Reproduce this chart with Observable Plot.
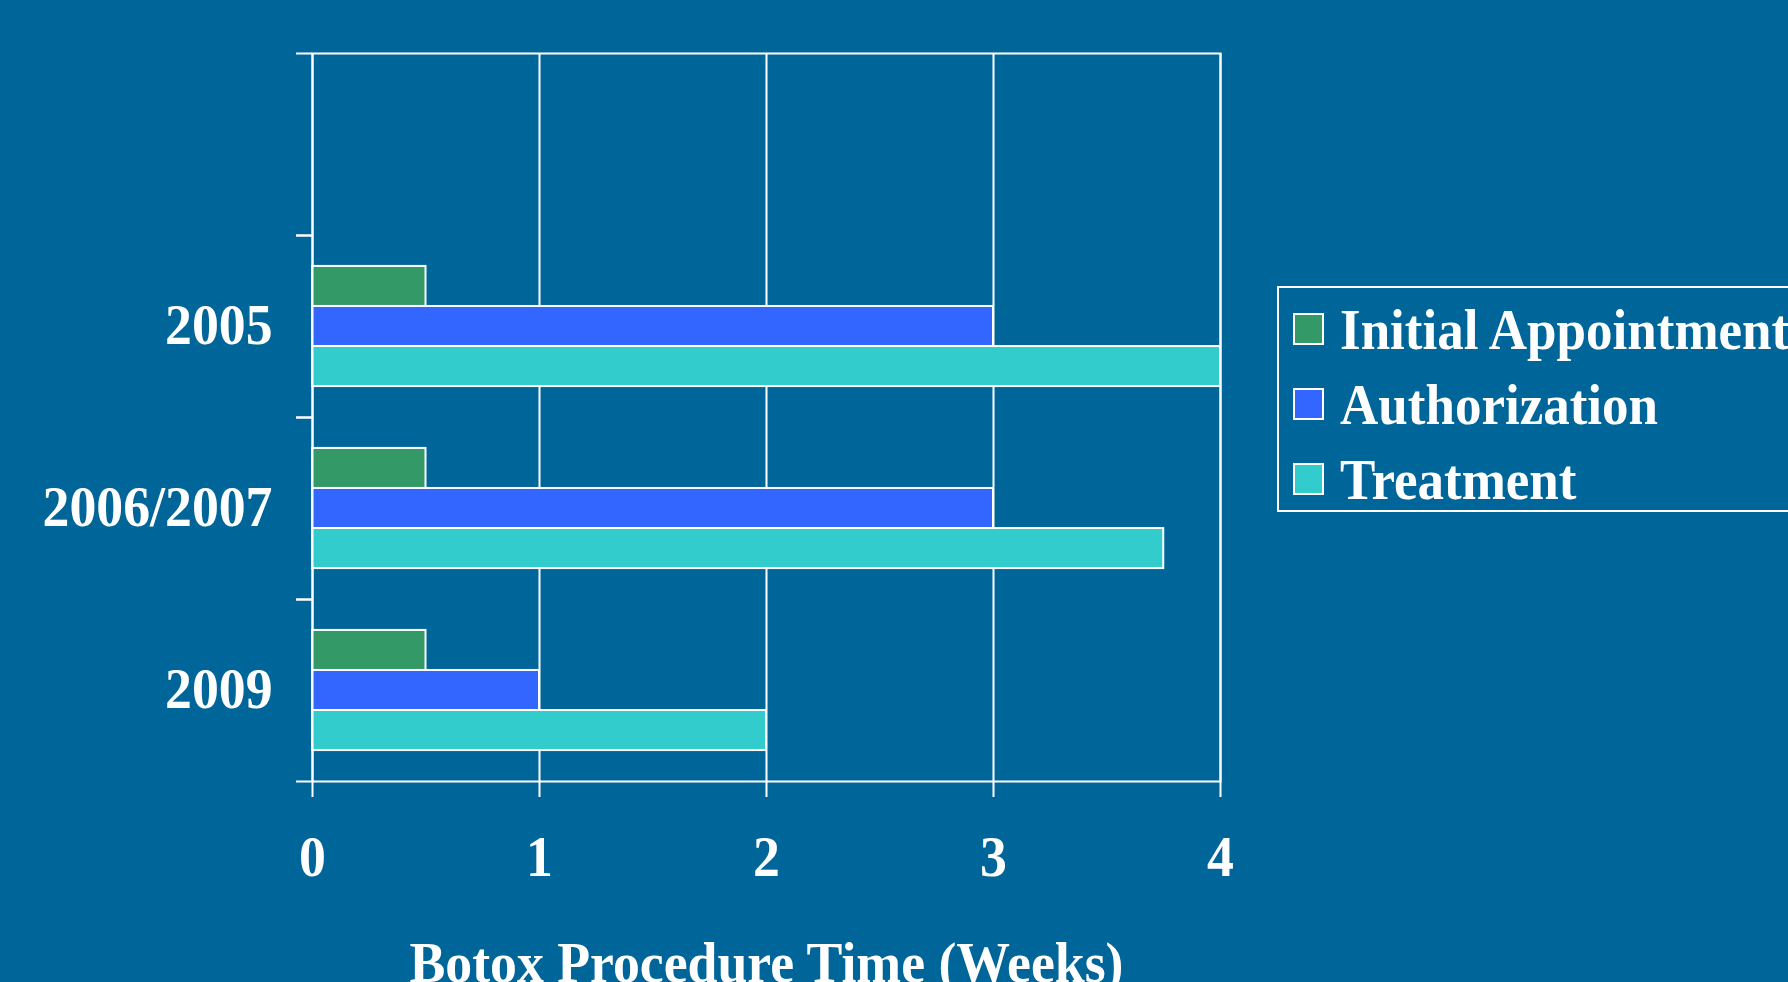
<!DOCTYPE html>
<html>
<head>
<meta charset="utf-8">
<script src="https://cdn.jsdelivr.net/npm/d3@7"></script>
<script src="https://cdn.jsdelivr.net/npm/@observablehq/plot@0.6"></script>
<style>
html, body { margin: 0; padding: 0; background: #006699; overflow: hidden; width: 1788px; height: 982px; }
#wrap { position: relative; width: 1788px; height: 982px; }
#wrap svg { position: absolute; left: 0; top: 0; }
#legend { position: absolute; left: 1277px; top: 286px; width: 620px; height: 226px; box-sizing: border-box;
  border: 2px solid #fff; font-family: "Liberation Serif", "Times New Roman", serif; font-weight: bold;
  color: #fff; font-size: 57px; }
.row { position: absolute; left: 14px; height: 75px; display: flex; align-items: center; white-space: nowrap; line-height: 1; }
.sw { width: 27px; height: 28px; border: 2px solid #fff; margin-right: 16px; flex: none; }
.row span { display: inline-block; transform: scaleX(0.93); transform-origin: left center; }
</style>
</head>
<body>
<div id="wrap"></div>
<script>
// ---- data ----
const categories = ["", "2005", "2006/2007", "2009"];   // top band is empty in the original
const years = ["2005", "2006/2007", "2009"];
const series = ["Initial Appointment", "Authorization", "Treatment"];
const initialAppointment = [0.5, 0.5, 0.5];
const authorization = [3, 3, 1];
const treatment = [4, 3.75, 2];
const colors = ["#339966", "#3366FF", "#33CCCC"];
const xTicks = [0, 1, 2, 3, 4];
const xLabel = "Botox Procedure Time (Weeks)";

const valuesBySeries = [initialAppointment, authorization, treatment];
const rows = years.flatMap((c, i) => series.map((s, k) => ({category: c, series: s, value: valuesBySeries[k][i]})));

// ---- layout ----
const W = 1788, H = 982, mT = 53, mB = 201, mL = 312, mR = 568;
const band = (H - mT - mB) / categories.length;
const barH = band * 0.22;
const pad = (band - series.length * barH) / 2;

const plot = Plot.plot({
  width: W, height: H,
  marginTop: mT, marginBottom: mB, marginLeft: mL, marginRight: mR,
  style: {background: "transparent", color: "white", fontFamily: "'Liberation Serif', 'Times New Roman', serif", fontWeight: "bold", fontSize: "56px", overflow: "visible"},
  x: {domain: [0, 4]},
  y: {type: "band", domain: categories, padding: 0},
  color: {domain: series, range: colors},
  marks: [
    Plot.gridX(xTicks, {stroke: "white", strokeOpacity: 1, strokeWidth: 2}),
    ...series.map((s, k) => Plot.barX(rows.filter(d => d.series === s), {
      x: "value", y: "category", fill: "series", stroke: "white", strokeWidth: 2,
      insetTop: pad + k * barH, insetBottom: band - pad - (k + 1) * barH
    })),
    Plot.frame({stroke: "white", strokeWidth: 2}),
    Plot.axisX(xTicks, {tickSize: 16, tickPadding: 39, strokeWidth: 2, fontSize: 56, tickFormat: d3.format("d"),
      label: xLabel, labelAnchor: "center", labelOffset: 200, labelArrow: "none"}),
    Plot.axisY({tickSize: 0, tickPadding: 40, fontSize: 56, label: null}),
    Plot.axisY({tickSize: 16, text: null, strokeWidth: 2, dy: -band / 2, label: null}),
    Plot.axisY({tickSize: 16, text: null, strokeWidth: 2, dy: band / 2, label: null})
  ]
});
// the original typeface is a slightly condensed bold serif
plot.querySelectorAll("text").forEach(t => {
  const tr = t.getAttribute("transform");
  if (tr && tr.startsWith("translate")) t.setAttribute("transform", tr + " scale(0.96,1)");
});
const wrap = document.getElementById("wrap");
wrap.appendChild(plot);

// ---- legend ----
const legend = document.createElement("div");
legend.id = "legend";
const color = plot.scale("color");
series.forEach((s, k) => {
  const row = document.createElement("div");
  row.className = "row";
  row.style.top = (3.5 + 75 * k) + "px";
  const sw = document.createElement("div");
  sw.className = "sw";
  sw.style.background = color.apply(s);
  const t = document.createElement("span");
  t.textContent = s;
  row.appendChild(sw);
  row.appendChild(t);
  legend.appendChild(row);
});
wrap.appendChild(legend);
</script>
</body>
</html>
